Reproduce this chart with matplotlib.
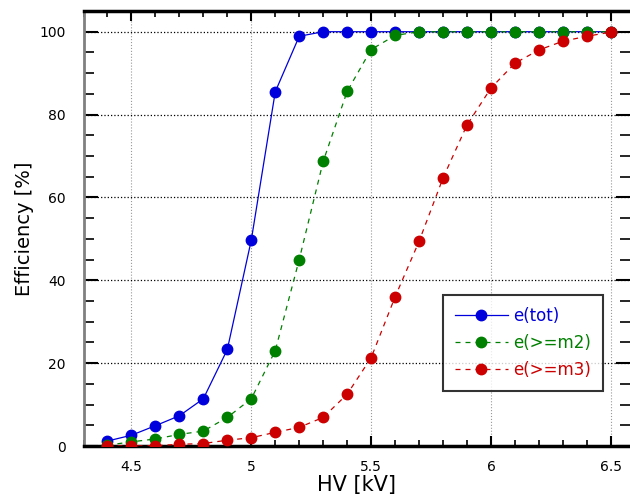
import matplotlib
matplotlib.use("Agg")
import matplotlib.pyplot as plt
from matplotlib.ticker import MultipleLocator

hv = [4.4, 4.5, 4.6, 4.7, 4.8, 4.9, 5.0, 5.1, 5.2, 5.3, 5.4, 5.5, 5.6, 5.7, 5.8, 5.9,
      6.0, 6.1, 6.2, 6.3, 6.4, 6.5]
e_tot = [1.2, 2.6, 4.9, 7.3, 11.4, 23.3, 49.7, 85.5, 98.9, 100, 100, 100, 100, 100, 100, 100,
         100, 100, 100, 100, 100, 100]
e_m2 = [0.2, 1.0, 1.7, 2.8, 3.6, 6.9, 11.4, 23.0, 45.0, 68.7, 85.6, 95.7, 99.1, 100, 100, 100,
        100, 100, 100, 100, 100, 100]
e_m3 = [0.0, 0.0, 0.1, 0.4, 0.6, 1.4, 2.0, 3.3, 4.5, 6.9, 12.5, 21.3, 36.0, 49.4, 64.7, 77.5,
        86.4, 92.4, 95.6, 97.7, 98.9, 99.9]
labels = ["e(tot)", "e(>=m2)", "e(>=m3)"]
colors = ["#0000dd", "#008000", "#cc0000"]

fig = plt.figure(figsize=(6.3, 4.98), dpi=100)
ax = fig.add_axes([83.5 / 630, 52 / 498, 1 - 83.5 / 630, 435 / 498])

ax.plot(hv, e_tot, '-', color=colors[0], lw=0.9, marker='o', ms=7.5, label=labels[0], zorder=3)
ax.plot(hv, e_m2, '--', color=colors[1], lw=0.9, dashes=(4, 4), marker='o', ms=7.5, label=labels[1], zorder=4)
ax.plot(hv, e_m3, '--', color=colors[2], lw=0.9, dashes=(4, 4), marker='o', ms=7.5, label=labels[2], zorder=5)

ax.set_xlim(4.3, 6.58)
ax.set_ylim(0, 105)
ax.xaxis.set_minor_locator(MultipleLocator(0.1))
ax.yaxis.set_major_locator(MultipleLocator(20))
ax.yaxis.set_minor_locator(MultipleLocator(5))
ax.set_xticks([4.5, 5, 5.5, 6, 6.5])
ax.set_xticklabels(["4.5", "5", "5.5", "6", "6.5"])

ax.grid(axis='x', which='major', color='#999999', ls=':', lw=0.8)
ax.grid(axis='y', which='major', color='black', ls=':', lw=0.9)

ax.tick_params(which='both', direction='in', top=True, right=True, labelsize=10)
ax.tick_params(axis='x', which='major', length=7, width=1.5, pad=10)
ax.tick_params(axis='x', which='minor', length=4, width=1.2)
ax.tick_params(axis='y', which='major', length=10, width=1.5, pad=13)
ax.tick_params(axis='y', which='minor', length=7, width=1.2)

ax.spines['left'].set_color('#808080')
ax.spines['left'].set_linewidth(2)
ax.spines['top'].set_linewidth(2.5)
ax.spines['bottom'].set_linewidth(2.5)
ax.spines['right'].set_visible(False)

ax.set_xlabel("HV [kV]", fontsize=15, labelpad=1)
ax.set_ylabel("Efficiency [%]", fontsize=14, labelpad=4)

leg = ax.legend(loc='upper left', bbox_to_anchor=((443 - 83.5) / 546.5, 1 - (295 - 11) / 435),
                fontsize=12, frameon=True, fancybox=False, handlelength=3.2,
                borderpad=0.7, labelspacing=0.55, handletextpad=0.3, borderaxespad=0)
leg.get_frame().set_edgecolor('black')
leg.get_frame().set_linewidth(1.5)
for t, c in zip(leg.get_texts(), colors):
    t.set_color(c)

fig.savefig("out.png", dpi=100)
